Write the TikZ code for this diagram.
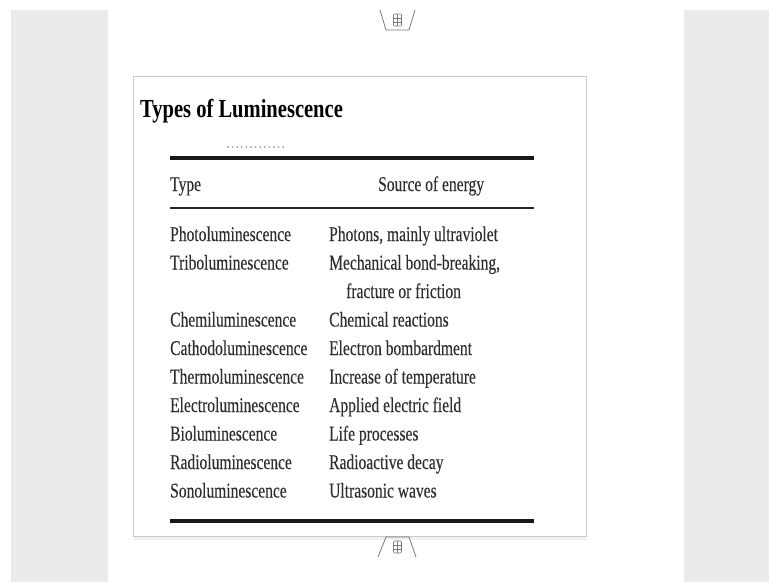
\documentclass[tikz,border=0pt]{standalone}
\usepackage{fontspec}
\setmainfont[FakeStretch=0.74,FakeBold=0.12]{Liberation Serif}
\newfontfamily\titlefont[FakeStretch=0.79]{Liberation Serif}
\definecolor{panelgray}{HTML}{EBEBEB}
\definecolor{boxline}{HTML}{C5CAD3}
\definecolor{txt}{HTML}{2E2E2E}
\definecolor{tabline}{HTML}{7A7A7A}
\definecolor{dotgreen}{HTML}{3E9E3E}
\tikzset{
  cell/.style={anchor=base west, inner sep=0pt, text=txt, font=\fontsize{21}{24}\selectfont},
  rulethick/.style={line width=3.4pt, draw=black!90},
  rulethin/.style={line width=1.8pt, draw=black!85},
  tabstyle/.style={draw=tabline, line width=0.8pt},
  iconstyle/.style={draw=tabline, line width=0.6pt, rounded corners=1pt}
}
\begin{document}
\begin{tikzpicture}[x=1pt,y=-1pt]
\useasboundingbox (0,0) rectangle (769,582);
\fill[white] (0,0) rectangle (769,582);
% side panels
\fill[panelgray] (11,10) rectangle (108,582);
\fill[panelgray] (684,10) rectangle (769,582);
% top tab
\draw[tabstyle] (380,10) -- (386,30) -- (409,30) -- (415,10);
\draw[iconstyle] (393.5,14) rectangle (401.5,26);
\draw[draw=tabline, line width=0.4pt] (393.5,18) -- (401.5,18) (393.5,22) -- (401.5,22) (397.5,14) -- (397.5,26);
% slide box
\fill[black!6] (134,537) rectangle (587,540);
\draw[boxline, line width=1pt, fill=white] (133,76) rectangle (586,536);
% bottom tab
\draw[tabstyle] (378,557) -- (386,537) -- (409,537) -- (416,557);
\draw[iconstyle] (393.5,541) rectangle (401.5,553);
\draw[draw=tabline, line width=0.4pt] (393.5,545) -- (401.5,545) (393.5,549) -- (401.5,549) (397.5,541) -- (397.5,553);
% title
\node[anchor=base west, inner sep=0pt, font=\titlefont\bfseries\fontsize{26}{30}\selectfont] (title) at (140,117) {Types of Luminescence};
% green dots
\foreach \k in {0,...,12} \fill[dotgreen] (228+4.6*\k,147) circle (0.8);
% rules
\coordinate (r1a) at (170,158); \coordinate (r1b) at (534,158);
\coordinate (r2a) at (170,208); \coordinate (r2b) at (534,208);
\coordinate (r3a) at (170,521); \coordinate (r3b) at (534,521);
\draw[rulethick] (r1a) -- (r1b);
\draw[rulethin] (r2a) -- (r2b);
\draw[rulethick] (r3a) -- (r3b);
% header
\node[cell] (htype) at (170,191) {Type};
\node[cell] (hsrc) at (378,191) {Source of energy};
% rows
\node[cell] (t1) at (170,241) {Photoluminescence};
\node[cell] (s1) at (329,241) {Photons, mainly ultraviolet};
\node[cell] (t2) at (170,269.5) {Triboluminescence};
\node[cell] (s2) at (329,269.5) {Mechanical bond-breaking,};
\node[cell] (s2b) at (346,298) {fracture or friction};
\node[cell] (t3) at (170,326.5) {Chemiluminescence};
\node[cell] (s3) at (329,326.5) {Chemical reactions};
\node[cell] (t4) at (170,355) {Cathodoluminescence};
\node[cell] (s4) at (329,355) {Electron bombardment};
\node[cell] (t5) at (170,383.5) {Thermoluminescence};
\node[cell] (s5) at (329,383.5) {Increase of temperature};
\node[cell] (t6) at (170,412) {Electroluminescence};
\node[cell] (s6) at (329,412) {Applied electric field};
\node[cell] (t7) at (170,440.5) {Bioluminescence};
\node[cell] (s7) at (329,440.5) {Life processes};
\node[cell] (t8) at (170,469) {Radioluminescence};
\node[cell] (s8) at (329,469) {Radioactive decay};
\node[cell] (t9) at (170,497.5) {Sonoluminescence};
\node[cell] (s9) at (329,497.5) {Ultrasonic waves};
\end{tikzpicture}
\end{document}
